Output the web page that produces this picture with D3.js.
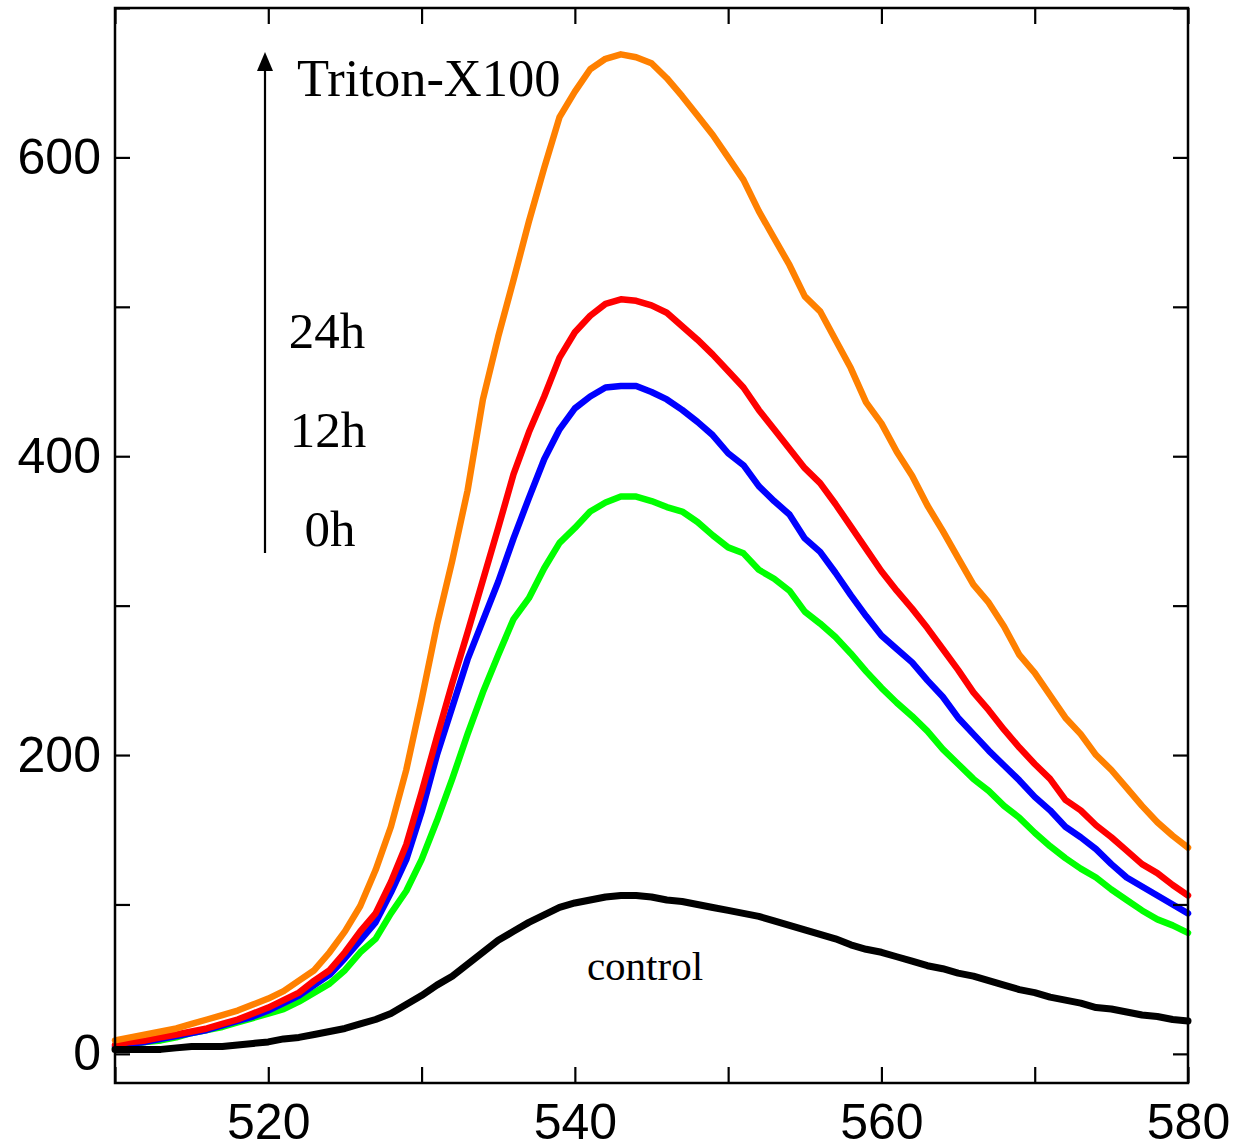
<!DOCTYPE html>
<html>
<head>
<meta charset="utf-8">
<script src="https://cdn.jsdelivr.net/npm/d3@7/dist/d3.min.js"></script>
<style>
  html, body { margin: 0; padding: 0; background: #fff; }
  svg { display: block; }
</style>
</head>
<body>
<svg id="chart" width="1253" height="1148"></svg>
<script>
// Emission wavelengths (nm)
const wavelength = d3.range(510, 581, 1);

// Fluorescence intensity for each sample, one value per nm
const triton = [9, 11, 13, 15, 17, 20, 23, 26, 29, 33,
  37, 42, 49, 56, 68, 82, 99, 123, 152, 190,
  237, 287, 330, 377, 438, 480, 518, 557, 593, 627,
  644, 659, 666, 669, 667, 663, 653, 641, 628, 615,
  600, 585, 564, 546, 528, 507, 497, 478, 459, 436,
  422, 403, 387, 367, 350, 332, 314, 302, 286, 267,
  255, 240, 225, 214, 200, 190, 178, 166, 155, 146, 138];

const h24 = [6, 8, 9, 11, 13, 15, 17, 20, 23, 27,
  31, 36, 41, 49, 56, 68, 82, 94, 115, 140,
  175, 212, 248, 282, 317, 352, 388, 416, 440, 466,
  483, 494, 502, 505, 504, 501, 496, 487, 478, 468,
  457, 446, 431, 418, 405, 392, 382, 368, 353, 338,
  323, 310, 298, 285, 271, 257, 242, 230, 217, 205,
  194, 184, 170, 163, 153, 145, 136, 127, 121, 113, 106];

const h12 = [5, 7, 8, 10, 12, 14, 16, 19, 22, 25,
  29, 34, 39, 46, 53, 64, 76, 88, 108, 130,
  162, 200, 232, 264, 290, 316, 345, 372, 398, 418,
  432, 440, 446, 447, 447, 443, 438, 431, 423, 414,
  402, 394, 380, 370, 361, 345, 336, 322, 307, 293,
  280, 271, 262, 250, 239, 225, 214, 203, 193, 183,
  172, 163, 152, 145, 137, 127, 118, 112, 106, 100, 94];

const h0 = [4, 6, 8, 9, 11, 14, 16, 18, 21, 24,
  27, 30, 35, 41, 47, 56, 68, 77, 94, 109,
  130, 156, 184, 214, 242, 267, 291, 305, 325, 342,
  352, 363, 369, 373, 373, 370, 366, 363, 356, 347,
  339, 335, 324, 318, 310, 296, 288, 279, 268, 256,
  245, 235, 226, 216, 204, 194, 184, 176, 166, 158,
  148, 139, 131, 124, 118, 110, 103, 96, 90, 86, 81];

const control = [3, 3, 3, 3, 4, 5, 5, 5, 6, 7,
  8, 10, 11, 13, 15, 17, 20, 23, 27, 33,
  39, 46, 52, 60, 68, 76, 82, 88, 93, 98,
  101, 103, 105, 106, 106, 105, 103, 102, 100, 98,
  96, 94, 92, 89, 86, 83, 80, 77, 73, 70,
  68, 65, 62, 59, 57, 54, 52, 49, 46, 43,
  41, 38, 36, 34, 31, 30, 28, 26, 25, 23, 22];

// Axis ticks
const xTicks = [510, 520, 530, 540, 550, 560, 570, 580];
const xLabels = [520, 540, 560, 580];
const yTicks = [0, 100, 200, 300, 400, 500, 600, 700];
const yLabels = [0, 200, 400, 600];

// Series drawn bottom-up so the upper curves sit on top
const series = [
  { name: "0h", values: h0, color: "#00ff00", width: 6.5 },
  { name: "12h", values: h12, color: "#0000ff", width: 6.5 },
  { name: "24h", values: h24, color: "#ff0000", width: 6.5 },
  { name: "Triton-X100", values: triton, color: "#ff8000", width: 6.5 },
  { name: "control", values: control, color: "#000000", width: 7 }
];

const svg = d3.select("#chart");
const plotLeft = 115, plotRight = 1188, plotTop = 8, plotBottom = 1083;

const x = d3.scaleLinear().domain([510, 580]).range([plotLeft, plotRight]);
const y = d3.scaleLinear().domain([-19.5, 700]).range([plotBottom, plotTop]);

const sans = "'Liberation Sans', Arial, sans-serif";
const serif = "'Liberation Serif', 'Times New Roman', serif";

// Curves
const line = d3.line()
  .x((d, i) => x(wavelength[i]))
  .y(d => y(d));

svg.append("g").selectAll("path")
  .data(series)
  .join("path")
  .attr("d", d => line(d.values))
  .attr("fill", "none")
  .attr("stroke", d => d.color)
  .attr("stroke-width", d => d.width)
  .attr("stroke-linejoin", "round")
  .attr("stroke-linecap", "round");

// Axes with inward ticks on all four sides
function styleAxis(g) {
  g.select(".domain").remove();
  g.selectAll(".tick line").attr("stroke", "#000").attr("stroke-width", 2.2);
  g.selectAll(".tick text").attr("fill", "#000").attr("font-family", sans).attr("font-size", 50);
}

svg.append("g")
  .attr("transform", `translate(0,${plotBottom})`)
  .call(d3.axisBottom(x).tickValues(xTicks).tickSize(-16).tickPadding(20)
    .tickFormat(d => xLabels.includes(d) ? d : ""))
  .call(styleAxis);

svg.append("g")
  .attr("transform", `translate(0,${plotTop})`)
  .call(d3.axisTop(x).tickValues(xTicks).tickSize(-16).tickFormat(""))
  .call(styleAxis);

svg.append("g")
  .attr("transform", `translate(${plotLeft},0)`)
  .call(d3.axisLeft(y).tickValues(yTicks).tickSize(-15).tickPadding(14)
    .tickFormat(d => yLabels.includes(d) ? d : ""))
  .call(styleAxis);

svg.append("g")
  .attr("transform", `translate(${plotRight},0)`)
  .call(d3.axisRight(y).tickValues(yTicks).tickSize(-15).tickFormat(""))
  .call(styleAxis);

// Frame
svg.append("rect")
  .attr("x", plotLeft).attr("y", plotTop)
  .attr("width", plotRight - plotLeft).attr("height", plotBottom - plotTop)
  .attr("fill", "none").attr("stroke", "#000").attr("stroke-width", 2.5);

// Time arrow
const arrowX = 265;
svg.append("line")
  .attr("x1", arrowX).attr("x2", arrowX)
  .attr("y1", 553).attr("y2", 66)
  .attr("stroke", "#000").attr("stroke-width", 2.2);
svg.append("path")
  .attr("d", `M${arrowX},52 L${arrowX - 8},71 L${arrowX + 8},71 Z`)
  .attr("fill", "#000");

// Annotations
const notes = [
  { text: "Triton-X100", x: 297, y: 96, size: 52.5, anchor: "start" },
  { text: "24h", x: 327, y: 348, size: 51, anchor: "middle" },
  { text: "12h", x: 328, y: 447, size: 51, anchor: "middle" },
  { text: "0h", x: 330, y: 546, size: 51, anchor: "middle" },
  { text: "control", x: 645, y: 980, size: 41, anchor: "middle" }
];
svg.append("g").selectAll("text")
  .data(notes)
  .join("text")
  .attr("x", d => d.x).attr("y", d => d.y)
  .attr("text-anchor", d => d.anchor)
  .attr("font-family", serif)
  .attr("font-size", d => d.size)
  .attr("fill", "#000")
  .text(d => d.text);
</script>
</body>
</html>
